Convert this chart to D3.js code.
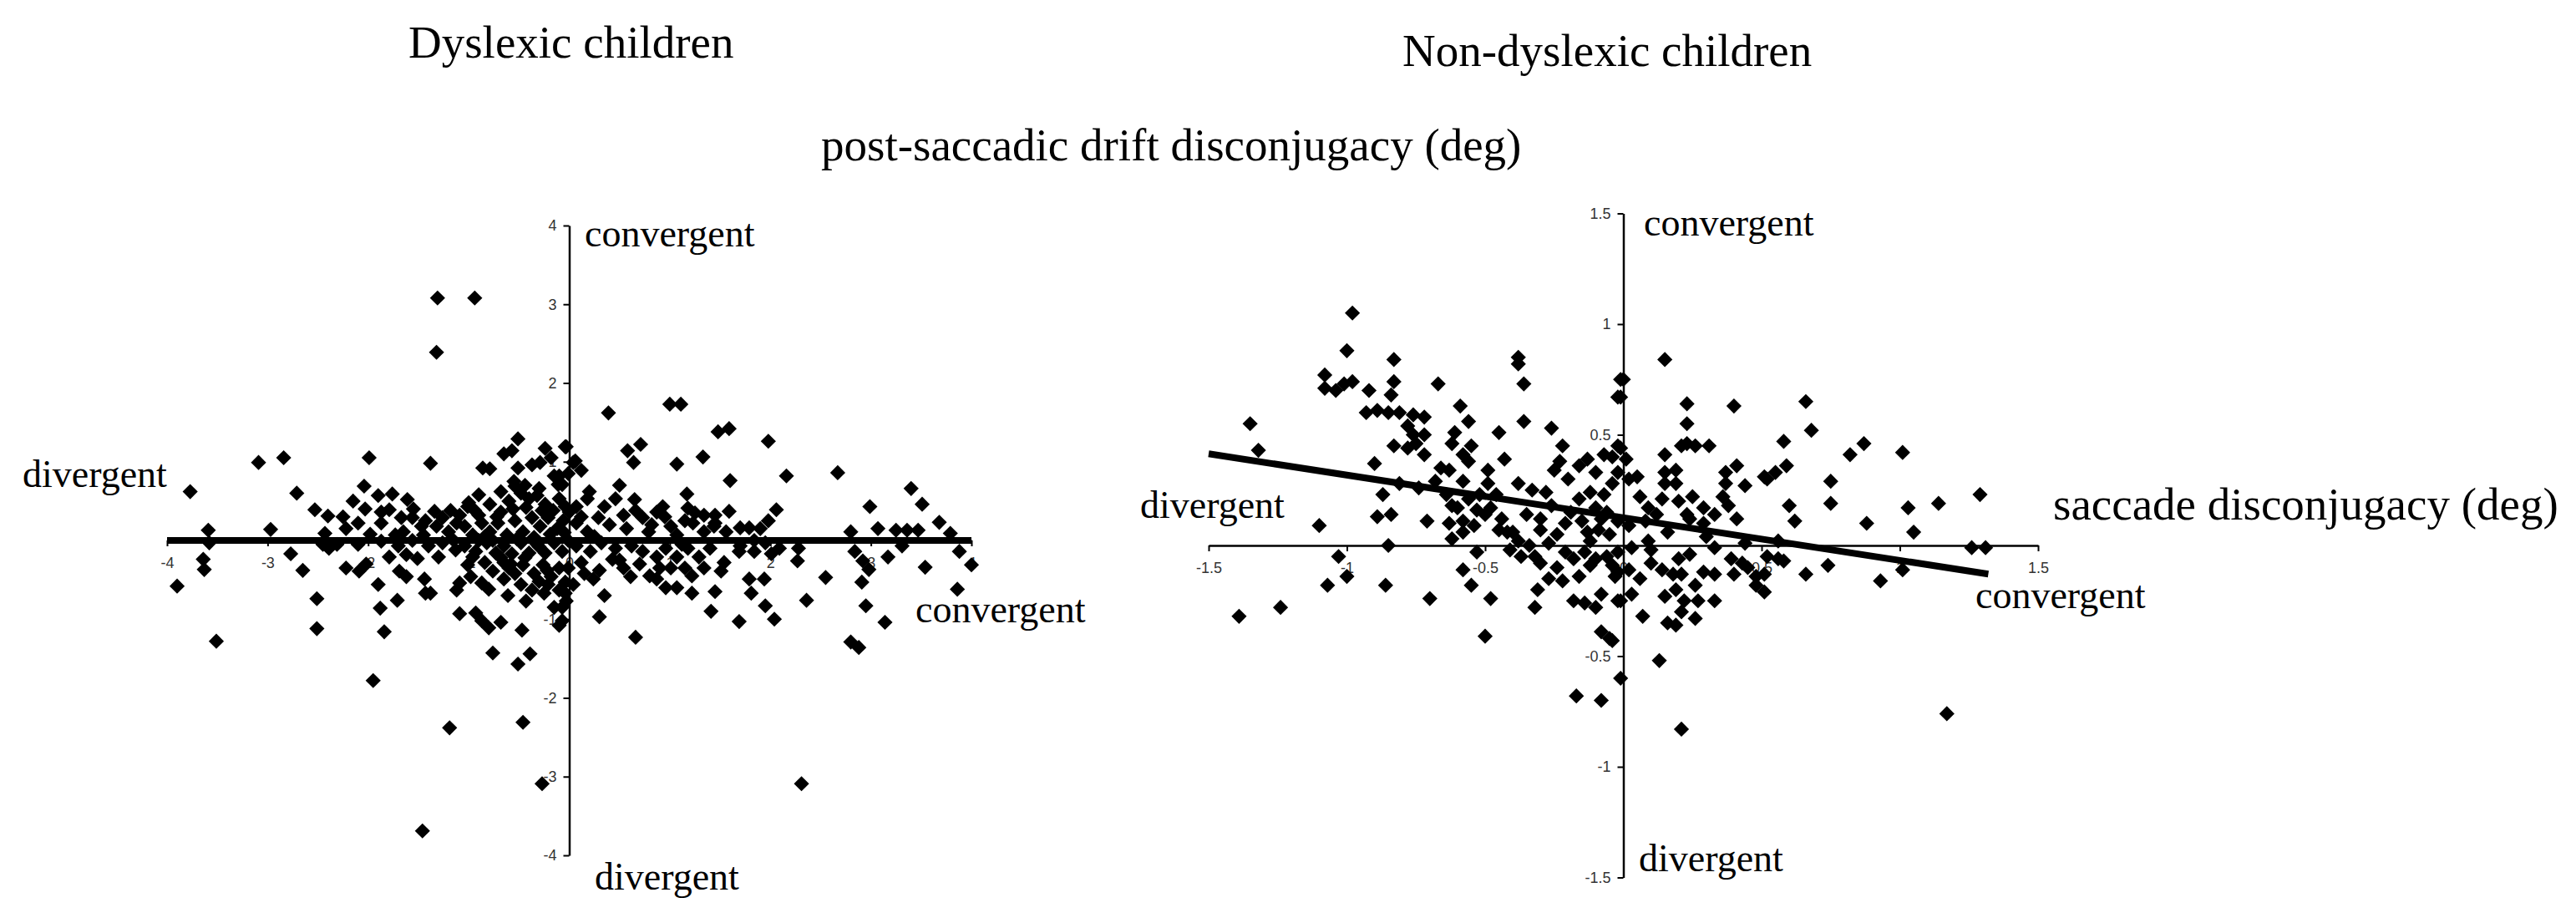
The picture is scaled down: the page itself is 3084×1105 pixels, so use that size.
<!DOCTYPE html>
<html><head><meta charset="utf-8">
<script src="https://cdn.jsdelivr.net/npm/d3@7"></script>
<style>html,body{margin:0;padding:0;background:#fff;} svg{display:block}</style>
</head><body>
<svg id="chart" width="3084" height="1105"></svg>
<script>
// ---------- DATA ----------
const titles = ["Dyslexic children", "Non-dyslexic children"];
const yAxisTitle = "post-saccadic drift disconjugacy (deg)";
const xAxisTitle = "saccade disconjugacy (deg)";

const dyslexicXTicks = [-4, -3, -2, -1, 0, 1, 2, 3, 4];
const dyslexicYTicks = [-4, -3, -2, -1, 1, 2, 3, 4];
const nonDyslexicXTicks = [-1.5, -1, -0.5, 0, 0.5, 1, 1.5];
const nonDyslexicYTicks = [-1.5, -1, -0.5, 0.5, 1, 1.5];

const dyslexicFitLine = [[-4, 0.0], [4, 0.0]];
const nonDyslexicFitLine = [[-1.5, 0.414], [1.32, -0.129]];

const dyslexicPoints = [
[-1.31,3.08],[-0.94,3.08],[-1.32,2.39],
[-1.19,-2.38],[-0.46,-2.31],[-0.27,-3.09],[2.31,-3.09],[-1.46,-3.69],
[-3.77,0.62],[-3.09,0.99],[-2.84,1.05],[-1.99,1.05],[-1.38,0.98],[-2.71,0.60],[-3.59,0.13],[-3.58,-0.03],[-2.97,0.14],[-3.64,-0.24],[-3.63,-0.37],[-3.90,-0.58],
[-3.51,-1.28],[-2.77,-0.17],[-2.65,-0.38],[-2.53,0.39],[-2.40,0.31],[-2.43,0.09],[-2.45,-0.05],[-2.39,-0.10],[-2.31,-0.05],[-2.51,-0.74],
[-2.51,-1.12],[-2.22,0.15],[-2.15,0.50],[-2.10,0.22],[-2.04,0.69],[-2.03,0.40],[-2.22,-0.35],[-2.09,-0.39],[-2.02,-0.30],[-1.90,0.57],
[-1.76,0.59],[-1.61,0.52],[-1.87,0.36],[-1.79,0.39],[-1.67,0.29],[-1.87,0.22],[-1.56,0.29],[-1.47,0.18],[-1.34,0.37],[-1.43,0.25],
[-1.87,-0.01],[-1.73,0.07],[-1.56,0.00],[-1.79,-0.21],[-1.90,-0.56],[-1.88,-0.86],[-1.84,-1.16],[-1.95,-1.78],[-1.71,-0.76],[-1.69,-0.39],
[-1.62,-0.46],[-1.51,-0.23],[-1.44,-0.49],[-1.43,-0.67],[-1.38,-0.67],[-1.30,-0.21],[-1.40,-0.07],[-1.20,0.11],[-1.09,0.32],[-1.00,0.48],
[-0.86,0.92],[-0.79,0.91],[-0.65,1.10],[-0.57,1.14],[-0.51,1.29],[-0.51,0.92],[-0.55,0.75],[-0.54,0.69],[-0.37,0.96],[-0.29,0.99],
[-0.24,1.17],[-0.04,1.19],[-0.15,0.82],[-0.11,0.71],[-0.18,1.05],[0.04,0.99],[-1.09,-0.54],[-1.12,-0.63],[-1.01,-0.31],[-0.96,-0.21],
[-0.87,-0.54],[-1.09,-0.93],[-0.93,-0.92],[-0.87,-1.02],[-0.80,-1.11],[-0.68,-1.04],[-0.76,-1.43],[-0.47,-1.14],[-0.51,-1.57],[-0.39,-1.44],
[-0.61,-0.70],[-0.43,-0.77],[-0.25,-0.67],[-0.15,-0.85],[-0.10,-1.08],[-0.03,-0.77],[-0.65,-0.49],[-0.60,-0.35],
[-1.01,0.43],[-0.90,0.32],[-0.79,0.46],[-0.68,0.36],[-0.60,0.50],[-0.48,0.60],[-0.40,0.53],[-0.32,0.57],[-0.24,0.46],[-0.10,0.53],
[-0.04,0.43],[-1.04,0.18],[-0.96,0.07],[-0.87,0.22],[-0.79,0.11],[-0.71,0.22],[-0.62,0.07],[-0.54,0.25],[-0.46,0.11],[-0.37,0.29],
[-0.29,0.18],[-0.21,0.29],[-0.12,0.15],[-0.06,0.25],[-1.04,-0.07],[-0.93,-0.14],[-0.82,-0.03],[-0.73,-0.16],[-0.65,-0.07],[-0.57,-0.17],
[-0.48,-0.03],[-0.40,-0.16],[-0.32,-0.05],[-0.24,-0.16],[-0.15,-0.03],[-0.07,-0.14],[-0.84,-0.28],[-0.76,-0.39],[-0.65,-0.28],[-0.54,-0.42],
[-0.46,-0.31],[-0.35,-0.42],[-0.26,-0.31],[-0.18,-0.46],[-0.10,-0.35],[-0.48,-0.56],[-0.37,-0.63],[-0.21,-0.56],[-0.10,-0.63],[-0.04,-0.53],
[-1.32,0.18],[-1.26,0.29],[-1.15,0.00],[-1.26,-0.03],[-1.45,0.07],[-1.65,0.11],[-1.70,-0.07],[-0.90,0.00],[-0.76,0.00],[-0.35,0.04],
[-0.01,0.00],[-0.01,0.85],[0.00,0.36],
[-1.18,0.38],[-1.13,-0.12],[-0.94,0.38],[-0.84,0.05],[-0.72,0.30],[-0.68,-0.22],[-0.56,0.40],[-0.52,0.02],[-0.43,0.42],[-0.30,-0.08],
[-0.27,0.38],[-0.16,0.38],[-0.19,0.08],[-0.44,-0.22],[-0.58,-0.30],[-0.22,-0.38],[-0.30,0.66],[-0.44,0.70],[-0.68,0.62],[-0.90,0.58],
[-1.12,0.22],[-0.98,-0.46],[-0.80,-0.62],[-0.30,-0.52],[-0.05,0.10],[-1.55,0.40],[-1.62,-0.18],[-1.98,0.08],[-2.10,-0.05],[-2.25,0.30],
[0.39,1.62],[1.00,1.73],[1.11,1.73],[1.48,1.38],[1.59,1.42],[1.98,1.26],[-0.03,1.19],[0.58,1.14],[0.71,1.22],[0.64,0.99],
[1.07,0.97],[1.33,1.06],[1.60,0.76],[2.16,0.82],[2.67,0.86],[3.40,0.66],[3.51,0.46],[2.99,0.43],[3.68,0.23],[3.79,0.09],
[3.88,-0.14],[4.00,-0.31],[3.54,-0.34],[3.86,-0.62],[2.80,0.11],[3.07,0.15],[3.25,0.13],[3.36,0.13],[3.47,0.13],[3.31,-0.07],
[2.84,-0.14],[2.92,-0.26],[2.98,-0.37],[3.17,-0.21],[2.91,-0.53],[2.95,-0.83],[3.14,-1.04],[2.80,-1.29],[2.88,-1.36],[2.55,-0.47],
[2.36,-0.76],[2.27,-0.26],[2.28,-0.10],[2.04,-1.00],[1.95,-0.83],[1.81,-0.67],[1.94,-0.49],[1.79,-0.49],[1.69,-1.03],[1.41,-0.90],
[1.45,-0.65],[2.06,0.39],[1.98,0.25],[1.90,0.15],[1.70,0.16],[1.59,0.37],[1.45,0.32],[1.17,0.59],[1.18,0.41],[0.66,-1.23],
[0.30,-0.97],[0.35,-0.70],[1.51,-0.39],[1.69,-0.14],[1.84,-0.14],[2.01,-0.17],[2.09,-0.10],[1.22,-0.67],[1.07,-0.60],[0.96,-0.60],
[0.87,-0.49],[0.61,-0.46],[0.54,-0.35],[0.43,-0.24],[0.24,-0.49],[0.15,-0.42],[0.04,-0.56],[0.12,0.89],[0.06,1.01],[0.18,0.53],
[0.46,0.53],[0.65,0.52],[0.93,0.43],[1.34,0.32],[1.44,0.18],[1.15,0.25],
[0.07,0.43],[0.07,0.22],[0.18,0.11],[0.29,0.29],[0.35,0.43],[0.54,0.32],[0.57,0.15],[0.73,0.29],[0.79,0.11],[0.87,0.36],
[1.01,0.18],[1.07,0.07],[1.23,0.22],[1.34,0.11],[1.45,0.22],[1.56,0.11],[0.07,-0.07],[0.21,-0.14],[0.32,-0.03],[0.46,-0.10],
[0.62,-0.07],[0.73,-0.14],[0.87,-0.21],[0.96,-0.10],[1.07,-0.21],[1.18,-0.10],[1.29,-0.21],[1.40,-0.10],[1.54,-0.28],[0.90,-0.35],
[1.01,-0.35],[1.15,-0.35],[1.34,-0.35],[-0.01,-0.35],[-0.04,-0.67],[-0.07,-0.85],[-0.07,-1.02],[-0.10,0.82],[-0.07,0.71],[1.79,0.16],
[1.70,-0.07],[1.84,0.00],[1.95,-0.03],
[0.12,0.30],[0.25,0.05],[0.40,0.20],[0.50,-0.25],[0.66,0.38],[0.70,-0.30],[0.82,0.20],[0.95,0.30],[1.12,-0.05],[1.25,0.35],
[0.12,-0.28],[0.30,-0.38],[0.80,-0.45],[1.22,-0.45],[0.20,0.62],[0.50,0.70]
];

const nonDyslexicPoints = [
[-0.98,1.05],[-1.00,0.88],[-1.35,0.55],[-1.32,0.43],[-1.08,0.77],[-1.08,0.71],[-1.04,0.70],[-1.01,0.73],[-0.98,0.74],[-0.92,0.70],
[-0.83,0.84],[-0.83,0.74],[-0.84,0.68],[-0.67,0.73],[-0.93,0.60],[-0.89,0.61],[-0.85,0.60],[-0.81,0.60],[-0.76,0.59],[-0.72,0.58],
[-0.78,0.54],[-0.76,0.50],[-0.72,0.50],[-0.83,0.45],[-0.78,0.44],[-0.75,0.46],[-0.72,0.41],[-0.90,0.37],[-0.59,0.63],[-0.56,0.56],
[-0.61,0.51],[-0.62,0.46],[-0.55,0.45],[-0.58,0.41],[-0.56,0.38],[-0.45,0.51],[-0.43,0.39],[-0.38,0.85],[-0.38,0.82],[-0.36,0.73],
[-0.36,0.56],[-0.26,0.53],[-0.22,0.45],[-0.23,0.38],[-0.25,0.34],[-0.66,0.35],[-0.63,0.34],[-0.49,0.34],[-0.58,0.29],[-0.49,0.28],
[-0.38,0.28],[-0.33,0.25],[-0.28,0.24],[-0.81,0.28],[-0.74,0.26],[-0.68,0.29],[-0.87,0.23],[-0.89,0.13],[-0.84,0.14],[-0.71,0.11],
[-1.10,0.09],[-0.62,0.03],[-0.85,0.00],[-1.03,-0.05],[-1.00,-0.14],[-1.07,-0.18],[-1.24,-0.28],[-1.39,-0.32],[-0.86,-0.18],[-0.70,-0.24],
[-0.58,-0.11],[-0.55,-0.18],[-0.53,-0.03],[-0.48,-0.24],[-0.50,-0.41],[-0.32,-0.28],[-0.31,-0.20],[-0.27,-0.15],[-0.22,-0.16],[-0.16,-0.14],
[-0.18,-0.25],[-0.14,-0.26],[-0.10,-0.28],[-0.08,-0.22],[-0.08,-0.39],[-0.05,-0.42],[-0.02,-0.25],[-0.03,-0.14],[-0.42,0.06],[-0.40,0.06],
[-0.30,0.07],[-0.41,-0.02],[-0.37,-0.05],[-0.32,-0.05],[-0.30,-0.08],
[-0.64,0.23],[-0.60,0.17],[-0.58,0.11],[-0.54,0.09],[-0.50,0.14],[-0.56,0.21],[-0.52,0.23],[-0.48,0.17],[-0.46,0.23],[-0.63,0.10],
[-0.58,0.06],[-0.45,0.07],[-0.20,0.30],[-0.16,0.36],[-0.13,0.39],[-0.10,0.33],[-0.12,0.24],[-0.16,0.21],[-0.19,0.15],[-0.21,0.10],
[-0.15,0.11],[-0.10,0.17],[-0.07,0.23],[-0.04,0.28],[-0.02,0.33],[-0.07,0.41],[-0.04,0.40],[-0.01,0.44],[-0.01,0.67],[-0.01,0.75],
[-0.13,0.06],[-0.09,0.07],[-0.05,0.05],[-0.02,0.11],[-0.24,0.05],[-0.21,-0.03],[-0.18,-0.06],[-0.14,-0.03],[-0.10,-0.06],[-0.06,-0.05],
[-0.02,-0.03],[-0.27,0.01],[-0.34,0.00],[-0.38,0.02],[-0.12,-0.09],[-0.04,-0.09],[-0.02,-0.12],
[-0.62,0.18],[-0.53,0.16],[-0.44,0.12],[-0.35,0.14],[-0.26,0.18],[-0.30,0.12],[-0.12,0.02],[-0.06,0.15],[-0.24,-0.10],[-0.08,0.12],
[0.15,0.84],[0.00,0.75],[-0.02,0.67],[0.23,0.64],[0.40,0.63],[0.66,0.65],[0.68,0.52],[0.23,0.55],[0.21,0.45],[0.23,0.46],
[0.26,0.45],[0.31,0.45],[0.58,0.47],[0.87,0.46],[0.82,0.41],[1.01,0.42],[0.15,0.41],[-0.02,0.45],[0.01,0.39],[0.41,0.36],
[0.37,0.33],[0.59,0.36],[0.55,0.33],[0.51,0.31],[0.52,0.30],[0.44,0.27],[0.37,0.28],[0.75,0.29],[0.75,0.19],[0.60,0.18],
[0.62,0.11],[0.88,0.10],[1.03,0.17],[1.14,0.19],[1.29,0.23],[1.05,0.06],[1.26,-0.01],[1.31,-0.01],[0.15,0.33],[0.19,0.34],
[0.15,0.28],[0.19,0.28],[0.05,0.31],[0.02,0.30],[0.25,0.22],[0.20,0.20],[0.14,0.21],[0.38,0.18],[0.33,0.14],[0.41,0.12],
[0.09,0.17],[0.24,0.12],[0.29,0.10],[0.56,0.02],[0.44,0.01],[0.33,-0.01],[0.24,-0.04],[0.03,-0.01],[0.09,0.02],[0.16,0.06],
[0.39,-0.06],[0.43,-0.08],[0.52,-0.05],[0.56,-0.06],[0.58,-0.07],[0.40,-0.13],[0.45,-0.10],[0.48,-0.14],[0.51,-0.13],[0.48,-0.18],
[0.51,-0.21],[0.66,-0.13],[0.74,-0.09],[0.93,-0.16],[1.01,-0.11],[0.10,-0.08],[0.14,-0.11],[0.18,-0.13],[0.21,-0.13],[0.29,-0.12],
[0.33,-0.13],[0.06,-0.15],[0.02,-0.11],[0.03,-0.22],[-0.01,-0.25],[0.15,-0.23],[0.19,-0.20],[0.22,-0.25],[0.27,-0.25],[0.33,-0.25],
[0.26,-0.18],[0.07,-0.32],[0.16,-0.35],[0.19,-0.36],[0.26,-0.33],[0.21,-0.30],[-0.04,-0.43],[0.13,-0.52],[0.23,0.14],[0.29,0.17],
[0.08,0.11],[0.02,0.09],
[0.06,0.22],[0.12,0.14],[0.30,0.04],[0.36,0.22],[0.10,-0.02],[0.20,-0.06],
[-0.01,-0.60],[-0.17,-0.68],[-0.08,-0.70],[0.21,-0.83],[1.17,-0.76]
];

// ---------- DRAWING ----------
const svg = d3.select("#chart");
const serif = "'Liberation Serif','Times New Roman',serif";
const tickFont = "'Liberation Sans Narrow','Liberation Sans',Arial,sans-serif";

const diamond = {
  draw(ctx, size) {
    const r = Math.sqrt(size / 2);
    ctx.moveTo(0, -r); ctx.lineTo(r, 0); ctx.lineTo(0, r); ctx.lineTo(-r, 0); ctx.closePath();
  }
};

function panel(cfg) {
  const x = d3.scaleLinear().domain(cfg.xDomain).range(cfg.xRange);
  const y = d3.scaleLinear().domain(cfg.yDomain).range(cfg.yRange);
  const g = svg.append("g");

  const gx = g.append("g").attr("transform", `translate(0,${y(0)})`)
    .call(d3.axisBottom(x).tickValues(cfg.xTicks).tickSize(7).tickSizeOuter(0).tickPadding(13).tickFormat(d => String(d)));
  const gy = g.append("g").attr("transform", `translate(${x(0)},0)`)
    .call(d3.axisLeft(y).tickValues(cfg.yTicks).tickSize(7).tickSizeOuter(0).tickPadding(8).tickFormat(d => String(d)));
  [gx, gy].forEach(a => {
    a.attr("font-size", null).attr("font-family", null);
    a.select(".domain").attr("stroke", "#000").attr("stroke-width", 2.5);
    a.selectAll(".tick line").attr("stroke", "#000").attr("stroke-width", 2);
    a.selectAll(".tick text").attr("fill", "#333").style("font-size", "18px").style("font-family", tickFont);
  });
  gx.selectAll(".tick").filter(d => d === 0).select("line").remove();

  g.append("g").selectAll("path").data(cfg.points).join("path")
    .attr("d", d3.symbol().type(diamond).size(165))
    .attr("transform", d => `translate(${x(d[0])},${y(d[1])})`)
    .attr("fill", "#000");

  g.append("path").datum(cfg.fit)
    .attr("d", d3.line().x(d => x(d[0])).y(d => y(d[1])))
    .attr("stroke", "#000").attr("stroke-width", 8).attr("fill", "none");

  cfg.labels.forEach(l => {
    g.append("text").attr("x", l[1]).attr("y", l[2]).text(l[0])
      .style("font-family", serif).style("font-size", (l[3] || 46) + "px").attr("fill", "#000");
  });
}

panel({
  xDomain: [-4, 4], xRange: [200, 1163],
  yDomain: [-4, 4], yRange: [1024, 270],
  xTicks: dyslexicXTicks, yTicks: dyslexicYTicks,
  points: dyslexicPoints, fit: dyslexicFitLine,
  labels: [["convergent", 700, 295], ["divergent", 27, 583], ["convergent", 1096, 745], ["divergent", 712, 1065]]
});

panel({
  xDomain: [-1.5, 1.5], xRange: [1447, 2440],
  yDomain: [-1.5, 1.5], yRange: [1050.5, 255.5],
  xTicks: nonDyslexicXTicks, yTicks: nonDyslexicYTicks,
  points: nonDyslexicPoints, fit: nonDyslexicFitLine,
  labels: [["convergent", 1968, 282], ["divergent", 1365, 620], ["convergent", 2365, 728], ["divergent", 1962, 1043],
           [xAxisTitle, 2458, 622, 55]]
});

svg.append("text").attr("x", 489).attr("y", 69).text(titles[0])
  .style("font-family", serif).style("font-size", "55px");
svg.append("text").attr("x", 1679).attr("y", 79).text(titles[1])
  .style("font-family", serif).style("font-size", "55px");
svg.append("text").attr("x", 983).attr("y", 192).text(yAxisTitle)
  .style("font-family", serif).style("font-size", "55px");
</script>
</body></html>
